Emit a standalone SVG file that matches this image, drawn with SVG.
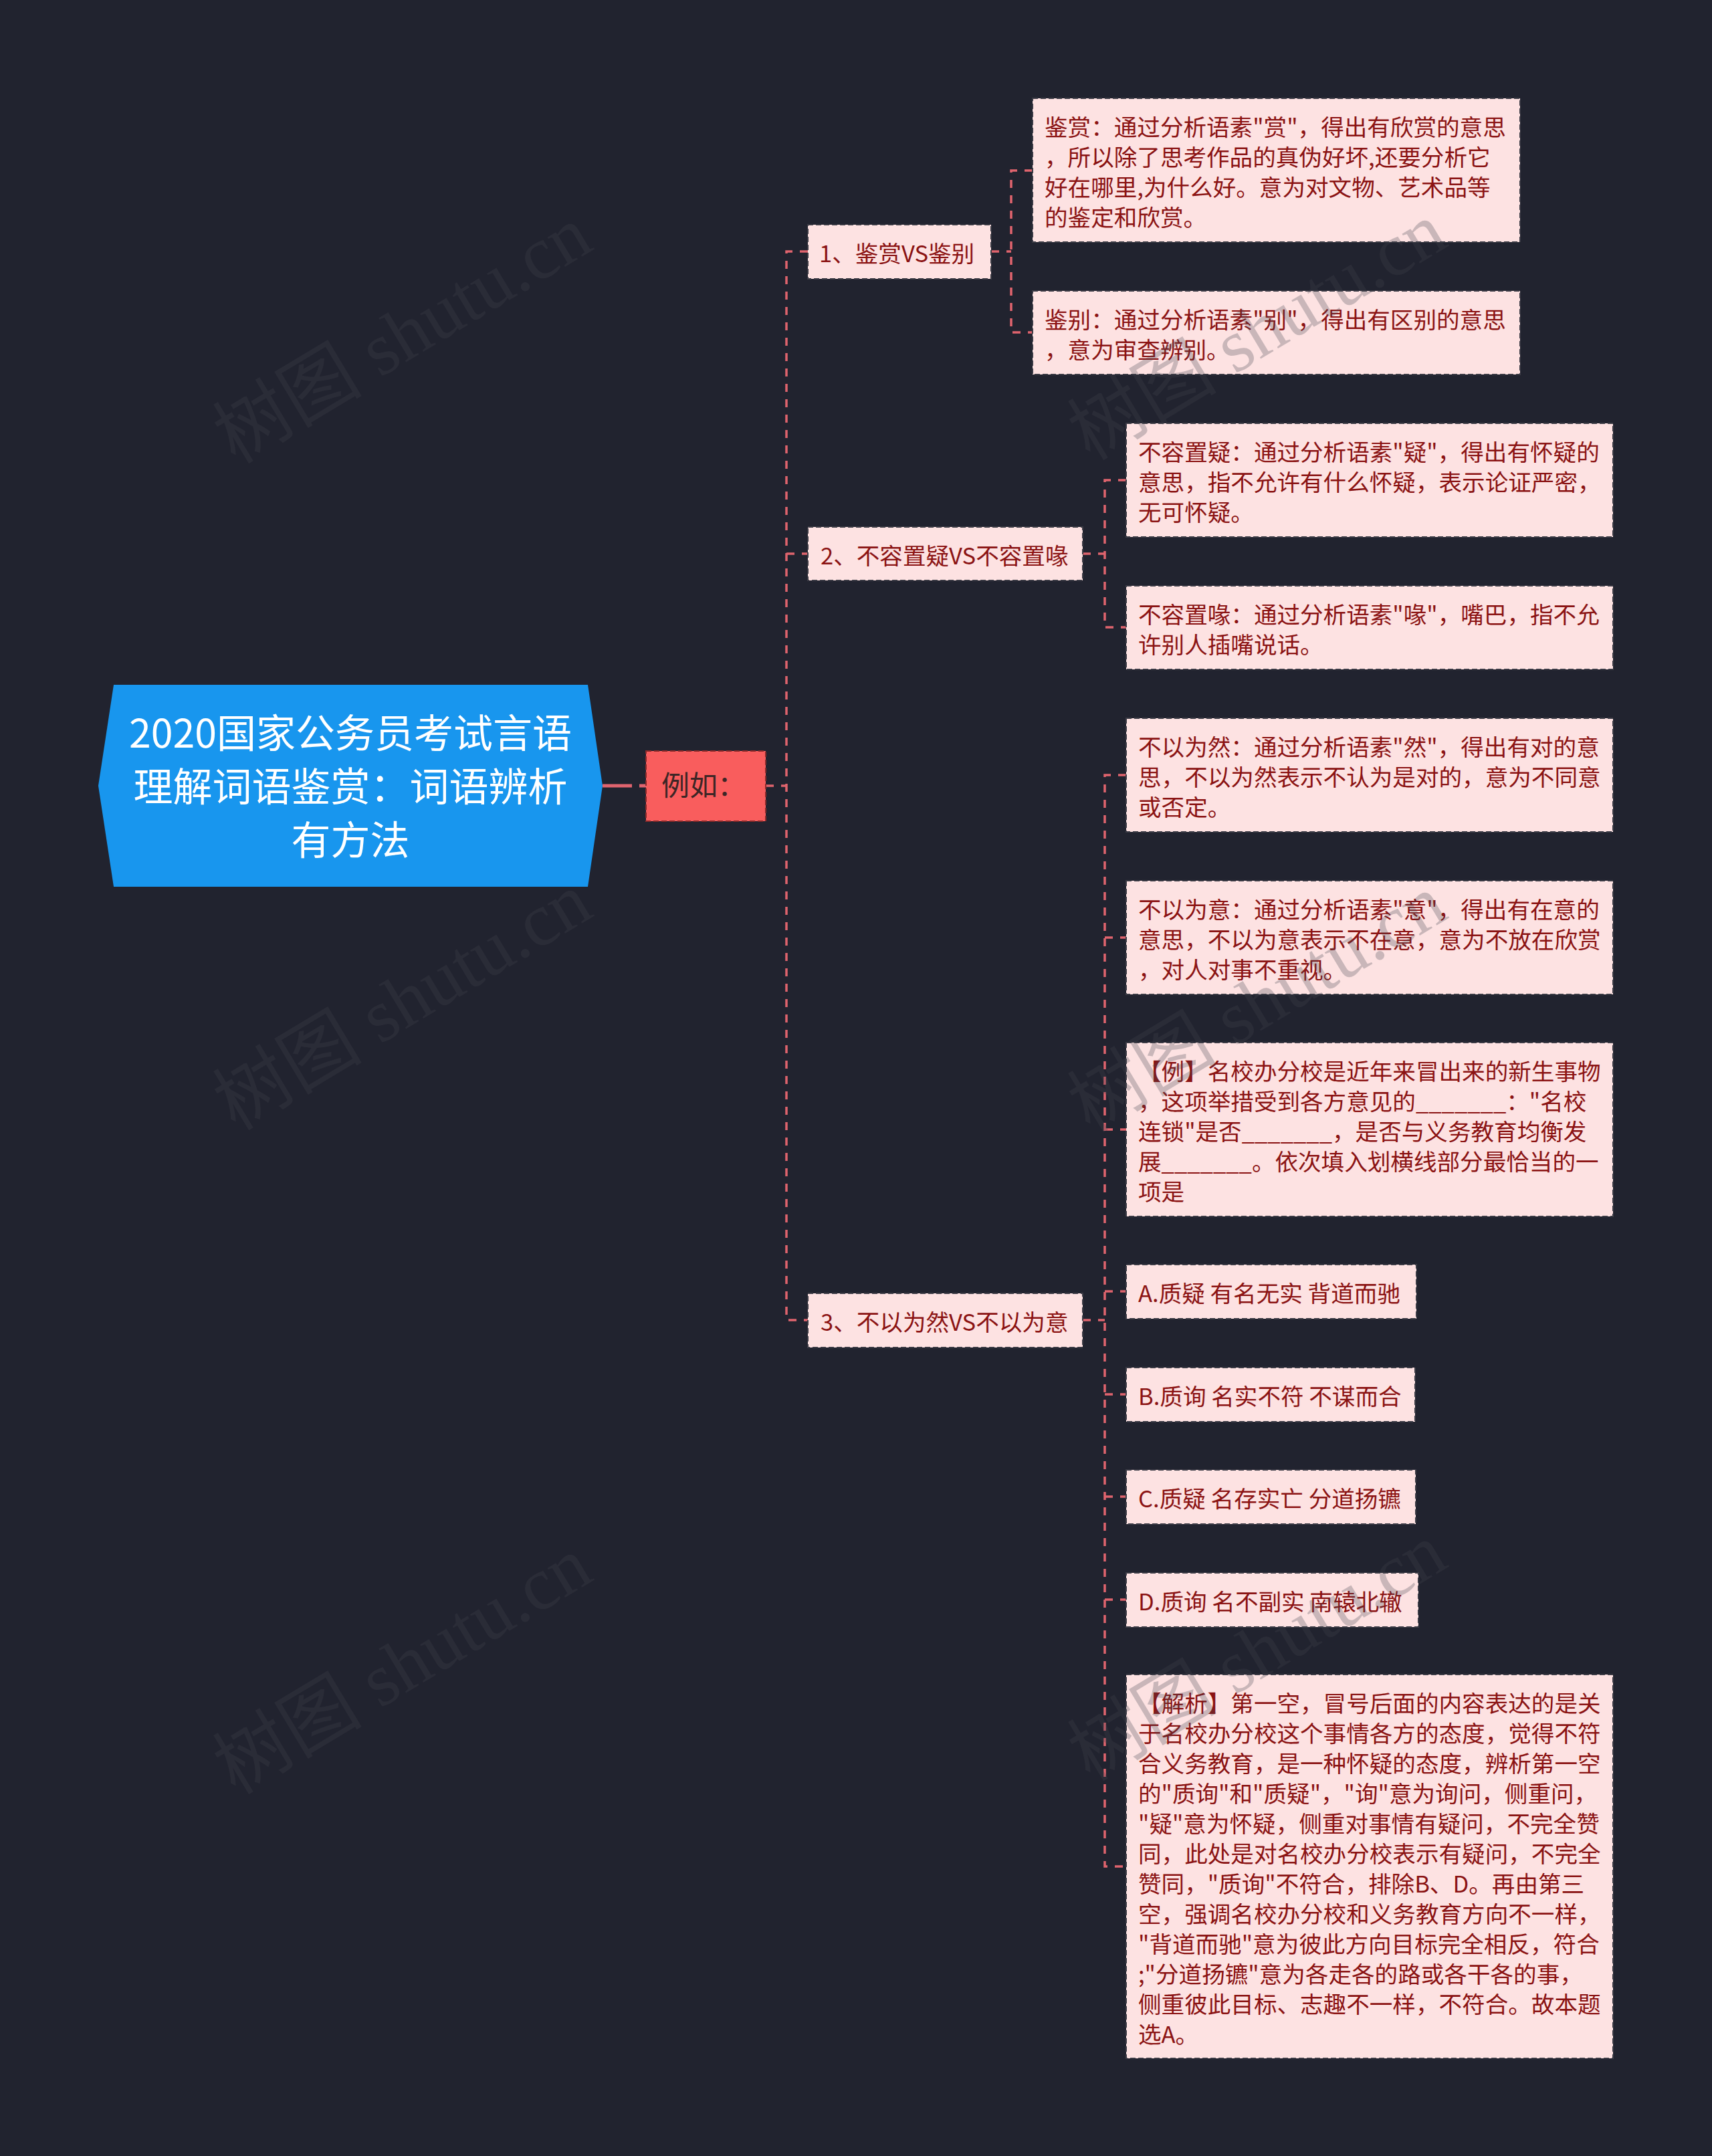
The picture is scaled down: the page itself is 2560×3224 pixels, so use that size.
<svg xmlns="http://www.w3.org/2000/svg" width="2560" height="3224" viewBox="0 0 2560 3224">
<style>
.bg{fill:#21232f}
.box{fill:#fde2e2;stroke:#3b3b45;stroke-width:2;stroke-dasharray:8 4}
.t{font-family:"Noto Sans CJK SC","Microsoft YaHei",sans-serif;font-size:34.6px;fill:#8b1313}
.rt{font-family:"Noto Sans CJK SC","Microsoft YaHei",sans-serif;font-size:59px;fill:#ffffff;text-anchor:middle}
.ex{font-family:"Noto Sans CJK SC","Microsoft YaHei",sans-serif;font-size:42px;fill:#3d2626}
.conn{fill:none;stroke:#e0646e;stroke-width:3.5;stroke-dasharray:12 11}
.wm{font-family:"Liberation Serif","Noto Sans CJK SC",serif;font-size:112px;fill:#46464f;fill-opacity:0.28}
</style>
<rect class="bg" x="0" y="0" width="2560" height="3224"/>

<g id="connectors">
  <path d="M901,1175 H966" fill="none" stroke="#e0646e" stroke-width="5" stroke-dasharray="44 11"/>
  <path class="conn" d="M1145,1175 H1176"/>
  <path class="conn" d="M1208,376 H1176 V1974 H1208"/>
  <path class="conn" d="M1176,828 H1208"/>
  <path class="conn" d="M1482,376 H1512"/>
  <path class="conn" d="M1544,255 H1512 V497 H1544"/>
  <path class="conn" d="M1619,828 H1652"/>
  <path class="conn" d="M1684,718 H1652 V938 H1684"/>
  <path class="conn" d="M1619,1974 H1652"/>
  <path class="conn" d="M1684,1159 H1652 V2791 H1684"/>
  <path class="conn" d="M1652,1402 H1684"/>
  <path class="conn" d="M1652,1689 H1684"/>
  <path class="conn" d="M1652,1931 H1684"/>
  <path class="conn" d="M1652,2085 H1684"/>
  <path class="conn" d="M1652,2238 H1684"/>
  <path class="conn" d="M1652,2392 H1684"/>
</g>

<g id="root">
  <polygon points="170,1024 879,1024 901,1175 879,1326 170,1326 147,1175" fill="#1896ee"/>
  <text class="rt" x="524" y="1118">2020国家公务员考试言语</text>
  <text class="rt" x="524" y="1198">理解词语鉴赏：词语辨析</text>
  <text class="rt" x="524" y="1278">有方法</text>
</g>

<g id="example">
  <rect x="966" y="1123" width="179" height="105" fill="#f95d5d" stroke="#8a2a2a" stroke-width="2" stroke-dasharray="8 4"/>
  <text class="ex" x="989" y="1190">例如：</text>
</g>

<g id="b1">
  <rect class="box" x="1208" y="336" width="274" height="81"/>
  <text class="t" x="1225" y="392">1、鉴赏VS鉴别</text>
</g>
<g id="b1a">
  <rect class="box" x="1544" y="147" width="729" height="215"/>
  <text class="t" x="1562" y="203">鉴赏：通过分析语素"赏"，得出有欣赏的意思</text>
  <text class="t" x="1562" y="248">，所以除了思考作品的真伪好坏,还要分析它</text>
  <text class="t" x="1562" y="293">好在哪里,为什么好。意为对文物、艺术品等</text>
  <text class="t" x="1562" y="338">的鉴定和欣赏。</text>
</g>
<g id="b1b">
  <rect class="box" x="1544" y="435" width="729" height="125"/>
  <text class="t" x="1562" y="491">鉴别：通过分析语素"别"，得出有区别的意思</text>
  <text class="t" x="1562" y="536">，意为审查辨别。</text>
</g>

<g id="b2">
  <rect class="box" x="1208" y="788" width="411" height="80"/>
  <text class="t" x="1227" y="844">2、不容置疑VS不容置喙</text>
</g>
<g id="b2a">
  <rect class="box" x="1684" y="633" width="728" height="170"/>
  <text class="t" x="1702" y="689">不容置疑：通过分析语素"疑"，得出有怀疑的</text>
  <text class="t" x="1702" y="734">意思，指不允许有什么怀疑，表示论证严密，</text>
  <text class="t" x="1702" y="779">无可怀疑。</text>
</g>
<g id="b2b">
  <rect class="box" x="1684" y="876" width="728" height="125"/>
  <text class="t" x="1702" y="932">不容置喙：通过分析语素"喙"，嘴巴，指不允</text>
  <text class="t" x="1702" y="977">许别人插嘴说话。</text>
</g>

<g id="b3">
  <rect class="box" x="1208" y="1934" width="411" height="81"/>
  <text class="t" x="1227" y="1990">3、不以为然VS不以为意</text>
</g>
<g id="b3a">
  <rect class="box" x="1684" y="1074" width="728" height="170"/>
  <text class="t" x="1702" y="1130">不以为然：通过分析语素"然"，得出有对的意</text>
  <text class="t" x="1702" y="1175">思，不以为然表示不认为是对的，意为不同意</text>
  <text class="t" x="1702" y="1220">或否定。</text>
</g>
<g id="b3b">
  <rect class="box" x="1684" y="1317" width="728" height="170"/>
  <text class="t" x="1702" y="1373">不以为意：通过分析语素"意"，得出有在意的</text>
  <text class="t" x="1702" y="1418">意思，不以为意表示不在意，意为不放在欣赏</text>
  <text class="t" x="1702" y="1463">，对人对事不重视。</text>
</g>
<g id="b3c">
  <rect class="box" x="1684" y="1559" width="728" height="260"/>
  <text class="t" x="1702" y="1615">【例】名校办分校是近年来冒出来的新生事物</text>
  <text class="t" x="1702" y="1660">，这项举措受到各方意见的_______："名校</text>
  <text class="t" x="1702" y="1705">连锁"是否_______，是否与义务教育均衡发</text>
  <text class="t" x="1702" y="1750">展_______。依次填入划横线部分最恰当的一</text>
  <text class="t" x="1702" y="1795">项是</text>
</g>
<g id="b3d">
  <rect class="box" x="1684" y="1891" width="434" height="81"/>
  <text class="t" x="1702" y="1947">A.质疑 有名无实 背道而驰</text>
</g>
<g id="b3e">
  <rect class="box" x="1684" y="2045" width="432" height="81"/>
  <text class="t" x="1702" y="2101">B.质询 名实不符 不谋而合</text>
</g>
<g id="b3f">
  <rect class="box" x="1684" y="2198" width="433" height="81"/>
  <text class="t" x="1702" y="2254">C.质疑 名存实亡 分道扬镳</text>
</g>
<g id="b3g">
  <rect class="box" x="1684" y="2352" width="437" height="81"/>
  <text class="t" x="1702" y="2408">D.质询 名不副实 南辕北辙</text>
</g>
<g id="b3h">
  <rect class="box" x="1684" y="2504" width="728" height="574"/>
  <text class="t" x="1702" y="2560">【解析】第一空，冒号后面的内容表达的是关</text>
  <text class="t" x="1702" y="2605">于名校办分校这个事情各方的态度，觉得不符</text>
  <text class="t" x="1702" y="2650">合义务教育，是一种怀疑的态度，辨析第一空</text>
  <text class="t" x="1702" y="2695">的"质询"和"质疑"，"询"意为询问，侧重问，</text>
  <text class="t" x="1702" y="2740">"疑"意为怀疑，侧重对事情有疑问，不完全赞</text>
  <text class="t" x="1702" y="2785">同，此处是对名校办分校表示有疑问，不完全</text>
  <text class="t" x="1702" y="2830">赞同，"质询"不符合，排除B、D。再由第三</text>
  <text class="t" x="1702" y="2875">空，强调名校办分校和义务教育方向不一样，</text>
  <text class="t" x="1702" y="2920">"背道而驰"意为彼此方向目标完全相反，符合</text>
  <text class="t" x="1702" y="2965">;"分道扬镳"意为各走各的路或各干各的事，</text>
  <text class="t" x="1702" y="3010">侧重彼此目标、志趣不一样，不符合。故本题</text>
  <text class="t" x="1702" y="3055">选A。</text>
</g>

<g id="watermarks">
  <text class="wm" transform="translate(352,695) rotate(-31)">树图 shutu.cn</text>
  <text class="wm" transform="translate(352,1692) rotate(-31)">树图 shutu.cn</text>
  <text class="wm" transform="translate(352,2685) rotate(-31)">树图 shutu.cn</text>
  <text class="wm" transform="translate(1630,690) rotate(-31)">树图 shutu.cn</text>
  <text class="wm" transform="translate(1630,1695) rotate(-31)">树图 shutu.cn</text>
  <text class="wm" transform="translate(1630,2665) rotate(-31)">树图 shutu.cn</text>
</g>
</svg>
